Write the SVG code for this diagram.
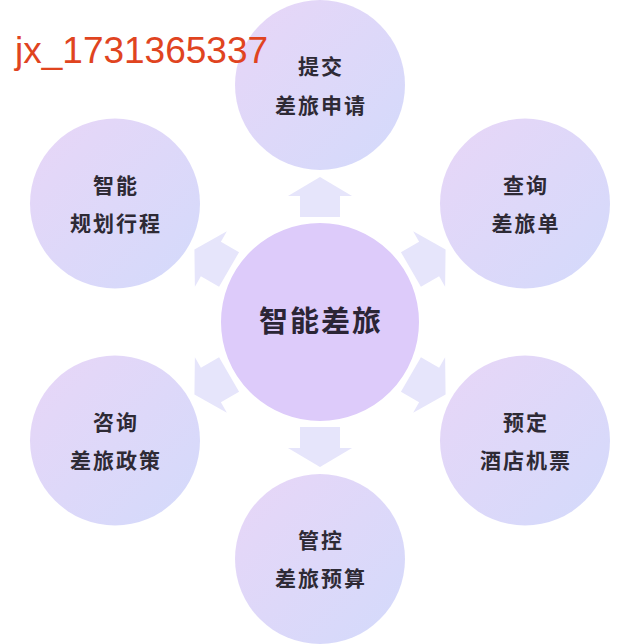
<svg xmlns="http://www.w3.org/2000/svg" xmlns:xlink="http://www.w3.org/1999/xlink" width="640" height="644" viewBox="0 0 640 644">
<defs>
<linearGradient id="sat" x1="0" y1="0" x2="1" y2="1">
<stop offset="0" stop-color="#e8d6f7"/>
<stop offset="1" stop-color="#d3dafb"/>
</linearGradient>
<polygon id="arr" points="320,177 352,196 340,196 340,217 300,217 300,196 288,196"/>
</defs>
<style>
.sat{fill:url(#sat)}
.arrow{fill:#e6e5fb}
.t{font-family:"Noto Sans CJK SC","Noto Sans",sans-serif;font-size:21px;font-weight:bold;fill:#2e2a35;text-anchor:middle;letter-spacing:2px}
.ct{font-family:"Noto Sans CJK SC","Noto Sans",sans-serif;font-size:29px;font-weight:bold;fill:#2b2535;text-anchor:middle;letter-spacing:2px}
.wm{font-family:"Liberation Sans",Arial,sans-serif;font-size:37px;fill:#e0441f}
</style>
<rect width="640" height="644" fill="#ffffff"/>
<g id="connectors">
<use xlink:href="#arr" class="arrow"/>
<use xlink:href="#arr" class="arrow" transform="rotate(60 320 322)"/>
<use xlink:href="#arr" class="arrow" transform="rotate(120 320 322)"/>
<use xlink:href="#arr" class="arrow" transform="rotate(180 320 322)"/>
<use xlink:href="#arr" class="arrow" transform="rotate(240 320 322)"/>
<use xlink:href="#arr" class="arrow" transform="rotate(300 320 322)"/>
</g>
<g id="center">
<circle cx="320" cy="322" r="101" fill="#ddcbfa" stroke="#ffffff" stroke-width="4"/>
<text class="ct" x="321" y="332">智能差旅</text>
</g>
<g id="n-top">
<circle class="sat" cx="320" cy="85" r="85"/>
<text class="t" x="321" y="74">提交</text>
<text class="t" x="321" y="113">差旅申请</text>
</g>
<g id="n-topright">
<circle class="sat" cx="525" cy="203.5" r="85"/>
<text class="t" x="526" y="193">查询</text>
<text class="t" x="526" y="231">差旅单</text>
</g>
<g id="n-bottomright">
<circle class="sat" cx="525" cy="440.5" r="85"/>
<text class="t" x="526" y="430">预定</text>
<text class="t" x="526" y="468">酒店机票</text>
</g>
<g id="n-bottom">
<circle class="sat" cx="320" cy="559" r="85"/>
<text class="t" x="321" y="548">管控</text>
<text class="t" x="321" y="586">差旅预算</text>
</g>
<g id="n-bottomleft">
<circle class="sat" cx="115" cy="440.5" r="85"/>
<text class="t" x="116" y="430">咨询</text>
<text class="t" x="116" y="468">差旅政策</text>
</g>
<g id="n-topleft">
<circle class="sat" cx="115" cy="203.5" r="85"/>
<text class="t" x="116" y="193">智能</text>
<text class="t" x="116" y="231">规划行程</text>
</g>
<text class="wm" x="15" y="63">jx_1731365337</text>
</svg>
